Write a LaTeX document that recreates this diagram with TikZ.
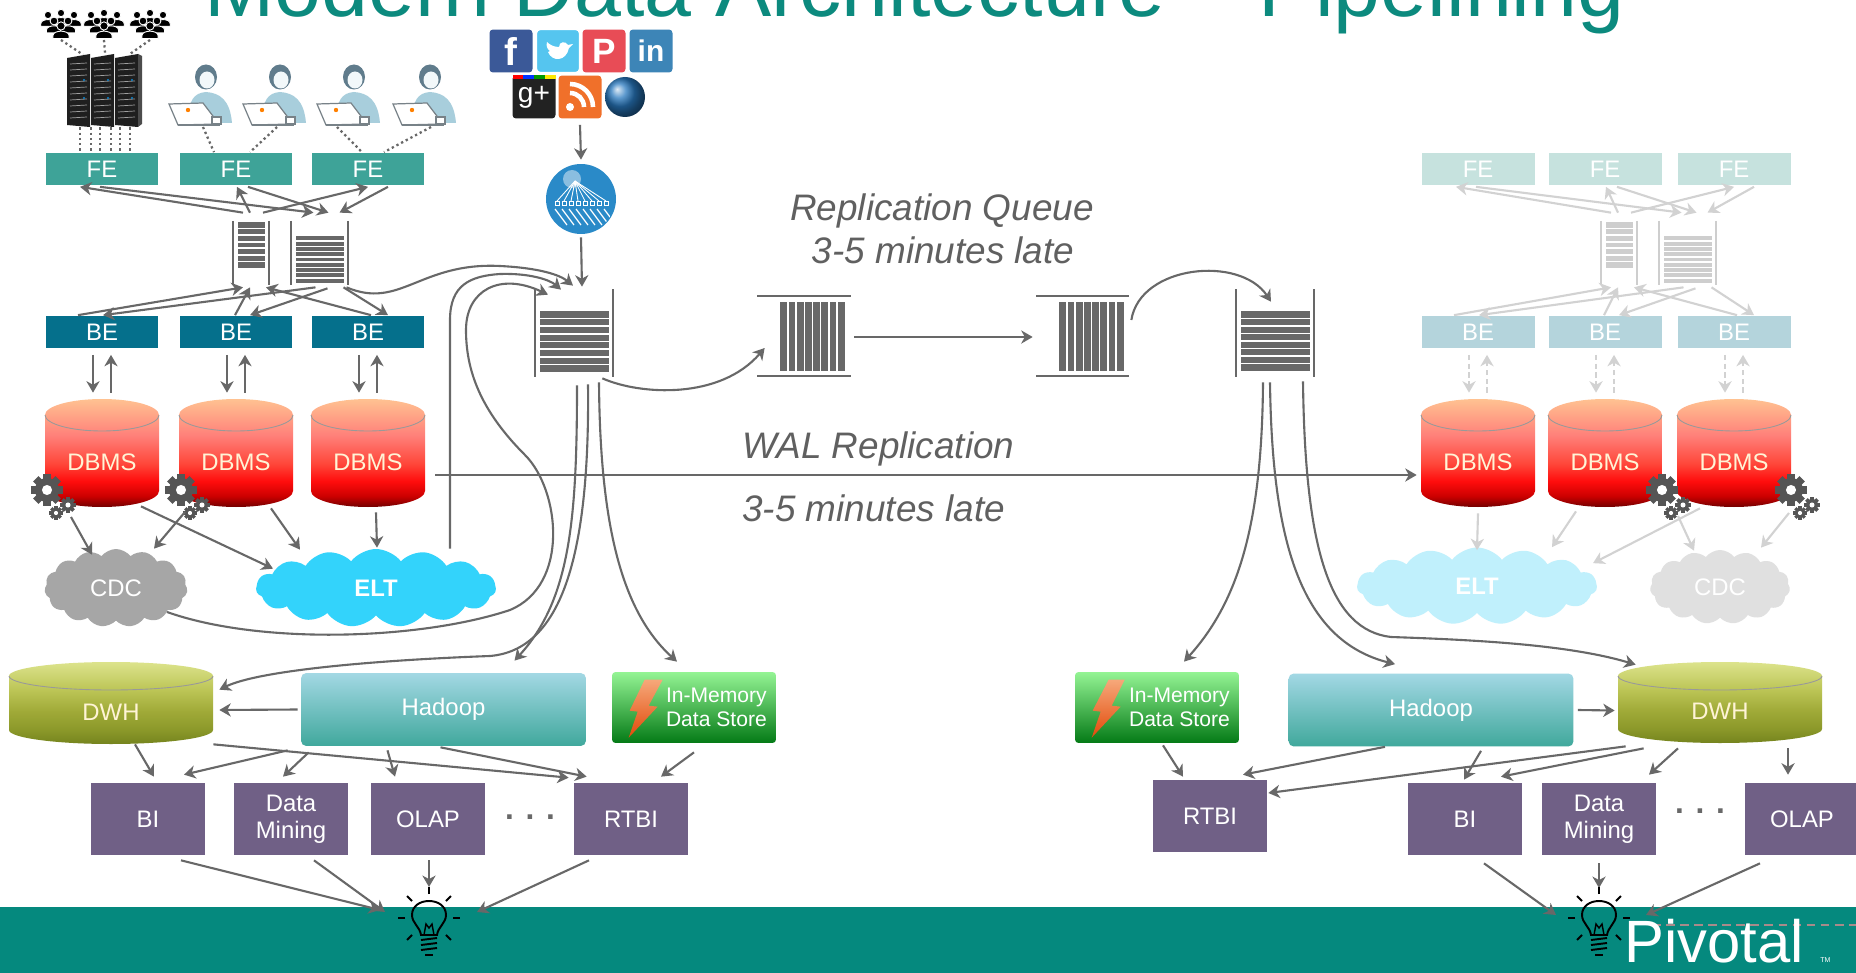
\documentclass[tikz,border=0pt]{standalone}
\usepackage{fontspec}
\setmainfont{Liberation Sans}
\usetikzlibrary{arrows.meta,shapes.symbols,calc,positioning,fit}

\definecolor{slideteal}{RGB}{5,137,126}
\definecolor{titleteal}{RGB}{12,138,126}
\definecolor{feteal}{RGB}{62,163,152}
\definecolor{bedark}{RGB}{5,112,140}
\definecolor{fadefe}{RGB}{198,226,222}
\definecolor{fadebe}{RGB}{180,212,220}
\definecolor{qgrey}{RGB}{104,104,104}
\definecolor{fadeq}{RGB}{206,206,206}
\definecolor{linegrey}{RGB}{104,104,104}
\definecolor{fadeline}{RGB}{210,210,210}
\definecolor{notegrey}{RGB}{96,96,96}
\definecolor{geargrey}{RGB}{85,85,85}
\definecolor{cdcgrey}{RGB}{166,166,166}
\definecolor{eltcyan}{RGB}{51,211,251}
\definecolor{fadeelt}{RGB}{192,240,252}
\definecolor{fadecdc}{RGB}{224,224,224}
\definecolor{purplebox}{RGB}{112,96,134}
\definecolor{cyltext}{RGB}{255,244,214}
\definecolor{hadtop}{RGB}{163,216,228}
\definecolor{hadmid}{RGB}{74,174,198}
\definecolor{hadbot}{RGB}{64,168,156}
\definecolor{memtop}{RGB}{148,244,148}
\definecolor{memmid}{RGB}{14,198,14}
\definecolor{membot}{RGB}{4,122,22}
\definecolor{boltlight}{RGB}{246,168,122}
\definecolor{boltorange}{RGB}{226,74,10}
\definecolor{fbblue}{RGB}{59,89,152}
\definecolor{twblue}{RGB}{85,197,239}
\definecolor{pinred}{RGB}{232,76,86}
\definecolor{liblue}{RGB}{61,133,183}
\definecolor{gpdark}{RGB}{34,34,34}
\definecolor{rssorange}{RGB}{240,112,42}
\definecolor{globeblue}{RGB}{40,120,190}
\definecolor{crawlblue}{RGB}{42,138,200}
\definecolor{womanblue}{RGB}{168,206,220}
\definecolor{womanhair}{RGB}{96,124,140}
\definecolor{laptopgrey}{RGB}{120,130,136}
\definecolor{logodash}{RGB}{168,138,138}

% cylinder fills, bottom to top
\pgfdeclareverticalshading{dbmsshade}{100bp}{color(0bp)=(red!45!black); color(25bp)=(red!45!black);
  color(30bp)=(red!80!black); color(37bp)=(red!100!orange!95); color(45bp)=(red!75!white!90!orange);
  color(58bp)=(red!50!white!95!orange); color(75bp)=(orange!40!white!95!red); color(100bp)=(orange!40!white!95!red)}
\pgfdeclareverticalshading{dwhshade}{100bp}{color(0bp)=(rgb,255:red,117;green,132;blue,30); color(25bp)=(rgb,255:red,117;green,132;blue,30);
  color(34bp)=(rgb,255:red,140;green,153;blue,42); color(45bp)=(rgb,255:red,160;green,170;blue,56);
  color(58bp)=(rgb,255:red,188;green,197;blue,86); color(75bp)=(rgb,255:red,220;green,227;blue,140); color(100bp)=(rgb,255:red,220;green,227;blue,140)}

\tikzset{
  conn/.style={draw=linegrey, line width=1.2pt, -{Stealth[length=6.5pt,width=7.5pt,inset=2pt]}},
  fadeconn/.style={conn, draw=fadeline},
  fadedash/.style={dash pattern=on 3pt off 2pt},
  dotline/.style={draw=linegrey, line width=1.3pt, dash pattern=on 1.3pt off 1.7pt},
  tierbox/.style={minimum width=2.26cm, minimum height=0.66cm, inner sep=0pt, text=white,
    font=\fontsize{13.6}{15}\selectfont},
  appbox/.style={fill=purplebox, minimum width=2.28cm, minimum height=1.44cm, inner sep=0pt,
    text=white, align=center, font=\fontsize{13.6}{15.5}\selectfont},
  cyltext/.style={text=cyltext, font=\fontsize{13.6}{15}\selectfont},
  puff/.style={cloud, cloud puffs=15, cloud puff arc=105, cloud ignores aspect, inner sep=0pt, text=white,
    font=\fontsize{13.6}{15}\selectfont},
  hadoop/.style={top color=hadtop, middle color=hadmid, bottom color=hadbot, rounded corners=3pt,
    minimum width=5.7cm, minimum height=1.46cm, inner sep=0pt, text=white, font=\fontsize{13.6}{15}\selectfont},
  memstore/.style={top color=memtop, middle color=memmid, bottom color=membot, rounded corners=2pt,
    minimum width=3.28cm, minimum height=1.42cm, inner sep=0pt},
  memtext/.style={text=white, align=left, font=\fontsize{12}{13.6}\selectfont, inner sep=0pt},
  note/.style={text=notegrey, font=\itshape\fontsize{21}{24}\selectfont, inner sep=0pt},
  social/.style={minimum size=0.86cm, inner sep=0pt, rounded corners=2pt, text=white},
  dots/.style={text=linegrey, font=\bfseries\fontsize{18}{18}\selectfont},
}

% ladder queue with horizontal rungs
\newcommand{\hqueue}[9]{%
  \draw[#2, line width=1.2pt] (#3,#5) -- (#3,#6) (#4,#5) -- (#4,#6);
  \fill[#2] ({#3+4.5},#7) rectangle ({#4-4.5},#8);
  \pgfmathsetmacro\qstep{(#8-#7)/#9}
  \pgfmathtruncatemacro\qlast{#9-1}
  \foreach \k in {1,...,\qlast}
    \draw[white, line width=0.9pt] ({#3+4.5},{#7+\k*\qstep}) -- ({#4-4.5},{#7+\k*\qstep});
  \node[fit={(#3,#5) (#4,#6)}, inner sep=0pt] (#1) {};
}
% queue lying on its side, vertical bars
\newcommand{\vqueue}[7]{%
  \draw[qgrey, line width=1.4pt] (#2,#4) -- (#3,#4) (#2,#5) -- (#3,#5);
  \fill[qgrey] (#6,{#4+6}) rectangle (#7,{#5-5});
  \pgfmathsetmacro\qstep{(#7-#6)/8}
  \foreach \k in {1,...,7}
    \draw[white, line width=0.9pt] ({#6+\k*\qstep},{#4+6}) -- ({#6+\k*\qstep},{#5-5});
  \node[fit={(#2,#4) (#3,#5)}, inner sep=0pt] (#1) {};
}
% name, centre x, half width, top, bottom, rim, shading, label
\newcommand{\cyl}[8]{%
  \shade[shading=#7] ({#2-#3},{#4+#6}) -- ({#2-#3},{#5-#6})
    arc[start angle=180, end angle=0, x radius=#3, y radius=#6] -- ({#2+#3},{#4+#6})
    arc[start angle=0, end angle=-180, x radius=#3, y radius=#6] -- cycle;
  \draw[black!40, line width=0.5pt] ({#2-#3},{#4+#6}) arc[start angle=180, end angle=0, x radius=#3, y radius=#6];
  \node[fit={({#2-#3},#4) ({#2+#3},#5)}, inner sep=0pt] (#1) {};
  \node[cyltext] at ($(#1.center)+(0,9)$) {#8};
}
\newcommand{\gear}[3]{%
  \begin{scope}[shift={(#1,#2)}]
    \foreach \a in {0,45,...,315}
      \fill[geargrey, rotate=\a] ({-0.32*#3},0) rectangle ({0.32*#3},{1.32*#3});
    \fill[geargrey] (0,0) circle[radius=#3];
    \fill[white] (0,0) circle[radius={0.42*#3}];
  \end{scope}
}
\newcommand{\bulb}[2]{%
  \begin{scope}[shift={(#1,#2)}, line width=1.1pt]
    \draw (-8,17) .. controls (-9,9) and (-17,5) .. (-17,-3) .. controls (-17,-12) and (-9,-17) .. (0,-17)
      .. controls (9,-17) and (17,-12) .. (17,-3) .. controls (17,5) and (9,9) .. (8,17) -- cycle;
    \draw[line width=0.8pt] (-5,17) -- (-3,6) -- (0,10) -- (3,6) -- (5,17);
    \foreach \yy in {22,27,32} \draw (-8,\yy) -- (8,{\yy-2});
    \draw (-4,37) -- (4,37);
    \foreach \a in {-90,-135,-45,180,0,135,45} \draw (\a:24) -- (\a:31);
  \end{scope}
}
\newcommand{\crowd}[2]{%
  \foreach \dx/\dy/\sc in {-13/-7/0.8, 0/-9/0.8, 13/-7/0.8, -7/-1/0.85, 7/-1/0.85, 0/4/0.9} {
    \filldraw[fill=black, draw=white, line width=0.5pt] ({#1+\dx-9*\sc},{#2+\dy+14*\sc})
      -- ({#1+\dx-9*\sc},{#2+\dy+11*\sc}) .. controls ({#1+\dx-9*\sc},{#2+\dy+4*\sc}) and ({#1+\dx+9*\sc},{#2+\dy+4*\sc})
      .. ({#1+\dx+9*\sc},{#2+\dy+11*\sc}) -- ({#1+\dx+9*\sc},{#2+\dy+14*\sc}) -- cycle;
    \filldraw[fill=black, draw=white, line width=0.5pt] ({#1+\dx},{#2+\dy}) circle[radius={4.6*\sc}];
  }
}
\newcommand{\woman}[2]{%
  \fill[womanblue] ({#1-18},123) .. controls ({#1-18},100) and ({#1-12},93) .. ({#1},92)
    .. controls ({#1+14},93) and ({#1+24},100) .. ({#1+26},123) -- cycle;
  \fill[womanhair] (#1,#2) ellipse[x radius=11, y radius=12.5];
  \fill[white!85!womanblue] ({#1+1},{#2+3}) ellipse[x radius=7.5, y radius=8.5];
  \filldraw[fill=white, draw=laptopgrey, line width=0.7pt] ({#1-37},104) -- ({#1-3},103) -- ({#1+13},124) -- ({#1-28},125) -- cycle;
  \draw[laptopgrey, line width=0.7pt] ({#1-28},125) -- ({#1+14},125);
  \filldraw[fill=white, draw=laptopgrey, line width=0.6pt] ({#1+6},117) rectangle ({#1+15},124);
  \fill[orange] ({#1-18},110) circle[radius=2.2];
}

\begin{document}
\begin{tikzpicture}[x=0.02cm, y=-0.02cm]
  \useasboundingbox (0,0) rectangle (1856,973);
  \clip (0,0) rectangle (1856,973);
  \fill[white] (0,0) rectangle (1856,973);
  \fill[slideteal] (0,907) rectangle (1856,973);

  \node[anchor=base west, text=titleteal, inner sep=0pt, font=\fontsize{48}{50}\selectfont] (title) at (204,17)
    {Modern Data Architecture -- Pipelining};

  % sources: crowds, server farm, users
  \foreach \c/\x in {1/61, 2/104, 3/150} {
    \crowd{\x}{22}
    \coordinate (crowd\c) at (\x,40);
  }
  \foreach \rx in {67,91,115} {
    \fill[black!88] (\rx,58) -- ({\rx+23},54) -- ({\rx+23},127) -- (\rx,125) -- cycle;
    \foreach \ry in {64,70,...,118}
      \draw[gray!75, line width=0.4pt] ({\rx+3},\ry) -- ({\rx+20},{\ry-1});
    \fill[cyan!70!blue] ({\rx+17},80) circle[radius=1.2] ({\rx+17},98) circle[radius=1.2];
  }
  \fill[black!70] (138,54) -- (142,56) -- (142,124) -- (138,127) -- cycle;
  \node[fit={(67,53) (141,127)}, inner sep=0pt] (server) {};
  \foreach \w/\x in {1/206, 2/280, 3/354, 4/430} {
    \woman{\x}{77}
    \coordinate (woman\w) at (\x,77);
  }

  % social feeds and crawler
  \node[social, fill=fbblue, font=\bfseries\fontsize{22}{22}\selectfont] (fb) at (511,51) {f};
  \node[social, fill=twblue, draw=white, line width=0.8pt] (tw) at (558,51) {};
  \fill[white] (548,52) .. controls (552,62) and (566,62) .. (569,48) -- (573,44) -- (568,45)
    .. controls (566,41) and (559,41) .. (559,47) .. controls (554,47) and (550,45) .. (547,42)
    .. controls (546,46) and (547,49) .. (550,51) -- cycle;
  \node[social, fill=pinred, font=\bfseries\fontsize{20}{20}\selectfont] (pin) at (604,51) {P};
  \node[social, fill=liblue, font=\bfseries\fontsize{17}{17}\selectfont] (li) at (651,51) {in};
  \node[social, fill=gpdark, font=\fontsize{16}{16}\selectfont] (gp) at (534,97) {g+};
  \foreach \k/\col in {0/red, 1/blue!80!cyan, 2/green!60!black, 3/yellow!90!orange}
    \fill[\col] ({512.5+\k*10.75},75) rectangle ({523.25+\k*10.75},79);
  \node[social, fill=rssorange] (rss) at (580,97) {};
  \fill[white] ($(rss.center)+(-10,10)$) circle[radius=4];
  \draw[white, line width=2.6pt] ($(rss.center)+(-10,-4)$) arc[start angle=-90, end angle=0, radius=14];
  \draw[white, line width=2.6pt] ($(rss.center)+(-10,-13)$) arc[start angle=-90, end angle=0, radius=23];
  \shade[ball color=globeblue] (625,97) circle[radius=20];
  \node[circle, minimum size=0.8cm, inner sep=0pt] (globe) at (625,97) {};

  \node[circle, fill=crawlblue, minimum size=1.4cm, inner sep=0pt] (crawler) at (581,199) {};
  \begin{scope}
    \clip (581,199) circle[radius=34];
    \fill[white, opacity=0.45] (572,179) circle[radius=9];
    \foreach \k in {0,...,7} {
      \draw[white, line width=0.5pt] (575,181) -- ({557+\k*7},201);
      \draw[white, line width=0.5pt] ({555+\k*7},201) rectangle ++(4,4);
      \draw[white, line width=0.7pt] ({555+\k*7},209) -- ++(12,16);
    }
  \end{scope}

  % web tier and database tier, live side and replica side
  \foreach \s/\xa/\xb/\xc/\dq/\fc/\bc/\qc/\cs/\dsh in
      {l/102/236/368/0/feteal/bedark/qgrey/conn/solid,
       r/1478/1605/1734/1368/fadefe/fadebe/fadeq/fadeconn/fadedash} {
    \hqueue{\s qa}{\qc}{233+\dq}{269+\dq}{221}{285}{222}{268}{7}
    \hqueue{\s qb}{\qc}{291+\dq}{348+\dq}{221}{285}{236}{283}{9}
    \foreach \i/\x in {1/\xa, 2/\xb, 3/\xc} {
      \node[tierbox, fill=\fc] (\s fe\i) at (\x,169) {FE};
      \node[tierbox, fill=\bc] (\s be\i) at (\x,332) {BE};
      \cyl{\s db\i}{\x}{57}{399}{507}{16}{dbmsshade}{DBMS}
      \draw[\cs, \dsh] ($(\s be\i.south)+(-9,6)$) -- ($(\s db\i.north)+(-9,-6)$);
      \draw[\cs, \dsh] ($(\s db\i.north)+(9,-6)$) -- ($(\s be\i.south)+(9,6)$);
    }
    \draw[\cs] ($(\s qa.north)+(-8,-8)$) -- ($(\s fe1.south)+(-22,1)$);
    \draw[\cs] ($(\s fe1.south)+(-2,1)$) -- ($(\s qb.north)+(-6,-8)$);
    \draw[\cs] ($(\s qa.north)+(-1,-8)$) -- ($(\s fe2.south)+(1,1)$);
    \draw[\cs] ($(\s fe2.south)+(12,1)$) -- ($(\s qb.north)+(9,-8)$);
    \draw[\cs] ($(\s qa.north)+(12,-8)$) -- ($(\s fe3.south)+(0,1)$);
    \draw[\cs] ($(\s fe3.south)+(20,1)$) -- ($(\s qb.north)+(20,-8)$);
    \draw[\cs] ($(\s be1.north)+(-24,0)$) -- ($(\s qa.south)+(-8,2)$);
    \draw[\cs] ($(\s qb.south)+(-4,2)$) -- ($(\s be1.north)+(1,0)$);
    \draw[\cs] ($(\s be2.north)+(-1,0)$) -- ($(\s qa.south)+(-1,2)$);
    \draw[\cs] ($(\s qb.south)+(8,3)$) -- ($(\s be2.north)+(14,0)$);
    \draw[\cs] ($(\s be3.north)+(3,0)$) -- ($(\s qa.south)+(15,2)$);
    \draw[\cs] ($(\s qb.south)+(24,2)$) -- ($(\s be3.north)+(20,0)$);
  }

  % dotted feeds into the front ends
  \draw[dotline] (crowd1) -- ($(server.north)+(-21,2)$);
  \draw[dotline] (crowd2) -- ($(server.north)+(1,0)$);
  \draw[dotline] (crowd3) -- ($(server.north)+(25,2)$);
  \foreach \o in {-22,-11,-2,9,18,28}
    \draw[dotline] ($(server.south)+({\o-2},0)$) -- ($(lfe1.north)+(\o,0)$);
  \draw[dotline] ($(woman1)+(-3,50)$) -- ($(lfe2.north)+(-22,0)$);
  \draw[dotline] ($(woman2)+(-3,50)$) -- ($(lfe2.north)+(14,0)$);
  \draw[dotline] ($(woman3)+(-17,50)$) -- ($(lfe3.north)+(-6,0)$);
  \draw[dotline] ($(woman4)+(1,50)$) -- ($(lfe3.north)+(16,0)$);

  % gears on the databases
  \foreach \g/\x in {lgear1/47, lgear2/181, rgear1/1662, rgear2/1791} {
    \gear{\x}{490}{12}
    \gear{\x+21}{505}{6}
    \gear{\x+9}{513}{5}
    \coordinate (\g) at (\x,491);
  }

  % staging clouds
  \node[puff, fill=cdcgrey, minimum width=2.86cm, minimum height=1.56cm] (lcdc) at (116,588) {CDC};
  \node[puff, fill=eltcyan, minimum width=4.8cm, minimum height=1.56cm, font=\bfseries\fontsize{13.6}{15}\selectfont] (lelt) at (376,588) {ELT};
  \node[puff, fill=fadeelt, minimum width=4.8cm, minimum height=1.54cm, font=\bfseries\fontsize{13.6}{15}\selectfont] (relt) at (1477,586) {ELT};
  \node[puff, fill=fadecdc, minimum width=2.8cm, minimum height=1.48cm] (rcdc) at (1720,587) {CDC};

  \draw[conn] ($(lgear1)+(24,26)$) -- ($(lcdc.north)+(-24,6)$);
  \draw[conn] ($(lgear2)+(4,21)$) -- ($(lcdc.north)+(38,0)$);
  \draw[conn] ($(ldb1.south)+(39,-1)$) -- ($(lelt.north)+(-103,20)$);
  \draw[conn] ($(ldb2.south)+(35,1)$) -- ($(lelt.north)+(-76,1)$);
  \draw[conn] ($(ldb3.south)+(8,5)$) -- ($(lelt.north)+(1,-1)$);
  \draw[fadeconn] ($(rdb1.south)+(0,6)$) -- ($(relt.north)+(0,3)$);
  \draw[fadeconn] ($(rdb2.south)+(-29,4)$) -- ($(relt.north)+(75,0)$);
  \draw[fadeconn] ($(rdb3.south)+(-34,1)$) -- ($(relt.north)+(116,16)$);
  \draw[fadeconn] ($(rgear1)+(16,25)$) -- ($(rcdc.north)+(-26,1)$);
  \draw[fadeconn] ($(rgear2)+(-2,22)$) -- ($(rcdc.north)+(41,-2)$);

  % replication pipeline
  \hqueue{inq}{qgrey}{535}{613}{289}{377}{311}{372}{8}
  \vqueue{repq1}{757}{851}{296}{376}{780}{845}
  \vqueue{repq2}{1036}{1129}{296}{376}{1059}{1124}
  \hqueue{outq}{qgrey}{1236}{1314}{289}{377}{311}{371}{8}

  \draw[conn] ($(rss.south)+(0,6)$) -- ($(crawler.north)+(0,-4)$);
  \draw[conn] ($(crawler.south)+(0,3)$) -- ($(inq.north)+(8,-2)$);
  \draw[conn] ($(lqb.south)+(27,2)$) .. controls (400,310) and (420,262) .. (500,266)
    .. controls (540,268) and (560,275) .. ($(inq.north)+(-1,-3)$);
  \draw[conn] ($(lelt.north)+(74,0)$) -- (450,320) .. controls (450,285) and (470,276) .. (500,274)
    .. controls (530,273) and (550,280) .. ($(inq.north)+(-13,1)$);
  \draw[conn] ($(lcdc.center)+(51,24)$) .. controls (260,645) and (420,640) .. (510,610)
    .. controls (570,585) and (560,490) .. (525,455) .. controls (480,410) and (466,370) .. (466,330)
    .. controls (466,290) and (500,272) .. ($(inq.north)+(-26,6)$);

  \draw[conn] ($(inq.south east)+(-11,1)$) .. controls (640,395) and (720,400) .. ($(repq1.west)+(8,12)$);
  \draw[conn] ($(repq1.east)+(3,1)$) -- ($(repq2.west)+(-3,1)$);
  \draw[conn] ($(repq2.east)+(2,-16)$) .. controls (1140,265) and (1240,255) .. ($(outq.north)+(-4,13)$);
  \draw[conn] ($(ldb3.east)+(10,22)$) -- ($(rdb1.west)+(-4,22)$);

  \node[note, anchor=base] (queuenote) at (942,221) {Replication Queue};
  \node[note, anchor=base] (queuelag) at (943,264) {3-5 minutes late};
  \node[note, anchor=base west] (walnote) at (742,458) {WAL Replication};
  \node[note, anchor=base west] (wallag) at (742,521) {3-5 minutes late};

  % analytics, live side
  \cyl{ldwh}{111}{102}{662}{744}{14}{dwhshade}{DWH}
  \node[hadoop] (lhadoop) at (443.5,709.5) {Hadoop};
  \node[memstore] (lmem) at (694,707.5) {};
  \shade[top color=boltlight, bottom color=boltorange, shift={(lmem.north west)}]
    (33,8) -- (51,8) -- (37,34) -- (46,35) -- (17,66) -- (26,40) -- (18,39) -- cycle;
  \node[memtext, anchor=west] at ($(lmem.west)+(54,0)$) {In-Memory\\Data Store};

  \node[appbox] (lbi) at (148,819) {BI};
  \node[appbox] (ldm) at (291,819) {Data\\Mining};
  \node[appbox] (lolap) at (428,819) {OLAP};
  \node[dots] (ldots) at (530,817) {. . .};
  \node[appbox] (lrtbi) at (631,819) {RTBI};
  \coordinate (lbulb) at (429,918);

  \draw[conn] ($(inq.south)+(3,8)$) .. controls (577,520) and (570,600) .. ($(lhadoop.north)+(71,-12)$);
  \draw[conn] ($(inq.south)+(14,7)$) .. controls (590,560) and (560,650) .. (490,656)
    .. controls (380,660) and (260,670) .. ($(ldwh.north east)+(6,28)$);
  \draw[conn] ($(inq.south)+(25,5)$) .. controls (600,520) and (620,610) .. ($(lmem.north)+(-17,-10)$);

  \draw[conn] ($(lhadoop.west)+(-3,0)$) -- ($(ldwh.east)+(6,7)$);
  \draw[conn] ($(ldwh.south)+(24,0)$) -- ($(lbi.north)+(6,-6)$);
  \draw[conn] ($(lhadoop.south west)+(-13,4)$) -- ($(lbi.north)+(36,-8)$);
  \draw[conn] ($(lhadoop.south west)+(8,6)$) -- ($(ldm.north)+(-8,-6)$);
  \draw[conn] ($(lhadoop.south)+(-56,4)$) -- ($(lolap.north)+(-33,-6)$);
  \draw[conn] (ldwh.south east) -- ($(lrtbi.north west)+(-5,-5)$);
  \draw[conn] ($(lhadoop.south)+(-3,1)$) -- ($(lrtbi.north west)+(13,-6)$);
  \draw[conn] ($(lmem.south)+(0,9)$) -- ($(lrtbi.north)+(30,-6)$);
  \draw[conn] ($(lbi.south)+(33,5)$) -- ($(lbulb)+(-49,-8)$);
  \draw[conn] ($(ldm.south)+(23,5)$) -- ($(lbulb)+(-44,-6)$);
  \draw[conn] ($(lolap.south)+(1,5)$) -- ($(lbulb)+(0,-31)$);
  \draw[conn] ($(lrtbi.south)+(-42,5)$) -- ($(lbulb)+(48,-6)$);
  \bulb{429}{918}

  % analytics, replica side
  \cyl{rdwh}{1720}{102}{662}{743}{14}{dwhshade}{DWH}
  \node[hadoop] (rhadoop) at (1431,710) {Hadoop};
  \node[memstore] (rmem) at (1157,707.5) {};
  \shade[top color=boltlight, bottom color=boltorange, shift={(rmem.north west)}]
    (34,8) -- (50,8) -- (37,34) -- (46,35) -- (17,66) -- (26,40) -- (18,39) -- cycle;
  \node[memtext, anchor=west] at ($(rmem.west)+(54,0)$) {In-Memory\\Data Store};

  \node[appbox] (rrtbi) at (1210,816) {RTBI};
  \node[appbox] (rbi) at (1465,819) {BI};
  \node[appbox] (rdm) at (1599,819) {Data\\Mining};
  \node[dots] (rdots) at (1700,811) {. . .};
  \node[appbox] (rolap) at (1802,819) {OLAP};
  \coordinate (rbulb) at (1599,918);

  \draw[conn] ($(outq.south)+(-12,5)$) .. controls (1262,520) and (1240,600) .. ($(rmem.north)+(27,-10)$);
  \draw[conn] ($(outq.south)+(-5,5)$) .. controls (1272,540) and (1300,640) .. ($(rhadoop.north)+(-36,-9)$);
  \draw[conn] ($(outq.south)+(28,4)$) .. controls (1305,550) and (1330,630) .. (1391,637)
    .. controls (1480,640) and (1570,645) .. ($(rdwh.north west)+(18,3)$);

  \draw[conn] ($(rhadoop.east)+(4,0)$) -- ($(rdwh.west)+(-3,8)$);
  \draw[conn] ($(rmem.south)+(6,2)$) -- ($(rrtbi.north)+(-27,-3)$);
  \draw[conn] ($(rhadoop.south)+(-46,0)$) -- ($(rrtbi.north)+(33,-5)$);
  \draw[conn] ($(rdwh.south west)+(8,3)$) -- ($(rrtbi.east)+(1,-23)$);
  \draw[conn] ($(rhadoop.south)+(50,4)$) -- ($(rbi.north)+(-1,-3)$);
  \draw[conn] ($(rdwh.south west)+(26,5)$) -- ($(rbi.north)+(36,-6)$);
  \draw[conn] ($(rdwh.south)+(-42,5)$) -- ($(rdm.north)+(50,-8)$);
  \draw[conn] ($(rdwh.south)+(68,5)$) -- ($(rolap.north)+(-14,-8)$);
  \draw[conn] ($(rbi.south)+(19,8)$) -- ($(rbulb)+(-43,-3)$);
  \draw[conn] ($(rdm.south)+(0,8)$) -- ($(rbulb)+(0,-30)$);
  \draw[conn] ($(rolap.south)+(-42,8)$) -- ($(rbulb)+(47,-3)$);
  \bulb{1599}{918}

  % footer logo
  \draw[logodash, line width=1pt, dash pattern=on 5pt off 3pt] (1652,925) -- (1856,925);
  \node[anchor=base west, text=white, inner sep=0pt, font=\fontsize{34}{35}\selectfont] (logo) at (1624,962) {Pivotal};
  \node[anchor=base west, text=white, inner sep=0pt, font=\fontsize{4}{4}\selectfont] (tm) at (1820,962) {TM};
\end{tikzpicture}
\end{document}
